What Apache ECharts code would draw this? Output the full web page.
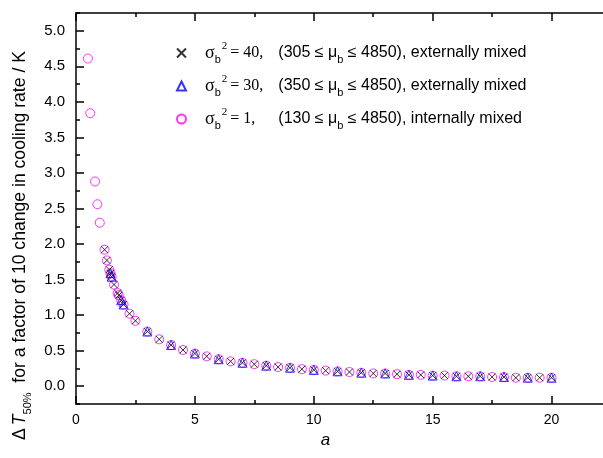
<!DOCTYPE html>
<html><head><meta charset="utf-8">
<script src="https://cdn.jsdelivr.net/npm/echarts@6/dist/echarts.min.js"></script>
<style>html,body{margin:0;padding:0;background:#fff}#c{width:603px;height:458px}</style>
</head><body><div id="c"></div>
<script>
// Data
const aCross = [1.2,1.3,1.4,1.45,1.5,1.6,1.75,1.8,1.9,2.0,2.25,2.5,3,3.5,4,4.5,5,5.5,6,6.5,7,7.5,8,8.5,9,9.5,10,10.5,11,11.5,12,12.5,13,13.5,14,14.5,15,15.5,16,16.5,17,17.5,18,18.5,19,19.5,20];
const yCross = [1.92,1.77,1.64,1.59,1.54,1.43,1.31,1.28,1.21,1.15,1.02,0.92,0.77,0.66,0.58,0.51,0.46,0.42,0.38,0.35,0.33,0.31,0.29,0.27,0.26,0.24,0.23,0.22,0.21,0.20,0.19,0.18,0.18,0.17,0.16,0.16,0.15,0.15,0.14,0.14,0.14,0.13,0.13,0.12,0.12,0.12,0.12];
const aTri = [1.45,1.5,1.9,2.0,3,4,5,6,7,8,9,10,11,12,13,14,15,16,17,18,19,20];
const yTri = [1.59,1.54,1.21,1.15,0.77,0.58,0.46,0.38,0.33,0.29,0.26,0.23,0.21,0.19,0.18,0.16,0.15,0.14,0.14,0.13,0.12,0.12];
const aCirc = [0.5,0.6,0.8,0.9,1.0,1.2,1.3,1.4,1.45,1.5,1.6,1.75,1.8,1.9,2.0,2.25,2.5,3,3.5,4,4.5,5,5.5,6,6.5,7,7.5,8,8.5,9,9.5,10,10.5,11,11.5,12,12.5,13,13.5,14,14.5,15,15.5,16,16.5,17,17.5,18,18.5,19,19.5,20];
const yCirc = [4.61,3.84,2.88,2.56,2.30,1.92,1.77,1.64,1.59,1.54,1.43,1.31,1.28,1.21,1.15,1.02,0.92,0.77,0.66,0.58,0.51,0.46,0.42,0.38,0.35,0.33,0.31,0.29,0.27,0.26,0.24,0.23,0.22,0.21,0.20,0.19,0.18,0.18,0.17,0.16,0.16,0.15,0.15,0.14,0.14,0.14,0.13,0.13,0.12,0.12,0.12,0.12];
const yMajorTicks = [0,0.5,1,1.5,2,2.5,3,3.5,4,4.5,5];
const yMinorTicks = [-0.25,0.25,0.75,1.25,1.75,2.25,2.75,3.25,3.75,4.25,4.75,5.25];
const names = ['s40','s30','s1'];
const legendText = {
  s40: '{sg|σ}{sb|b}{sp|2}{eq|= 40,}{t|(305 ≤ μ}{sb|b}{t| ≤ 4850), externally mixed}',
  s30: '{sg|σ}{sb|b}{sp|2}{eq|= 30,}{t|(350 ≤ μ}{sb|b}{t| ≤ 4850), externally mixed}',
  s1:  '{sg|σ}{sb|b}{sp|2}{eq|= 1,}{t|(130 ≤ μ}{sb|b}{t| ≤ 4850), internally mixed}'
};
const zip = (a,b) => a.map((v,i)=>[v,b[i]]);

const chart = echarts.init(document.getElementById('c'), null, {renderer:'canvas'});
const SANS = 'Liberation Sans, Arial, sans-serif';
const SERIF = 'Liberation Serif, Times New Roman, serif';
const axisLine = {show:true, onZero:false, lineStyle:{color:'#000', width:1.5}};
chart.setOption({
  animation:false,
  grid:{left:76, top:13, width:535, height:391, containLabel:false, outerBoundsMode:'none'},
  legend:{
    data:names, orient:'vertical', left:171, top:36, itemGap:9,
    itemWidth:9, itemHeight:9,
    formatter: n => legendText[n],
    textStyle:{
      rich:{
        sg:{fontFamily:SERIF, fontSize:18, color:'#000', lineHeight:24, padding:[0,0,0,14]},
        sb:{fontFamily:SANS, fontSize:11, color:'#000', lineHeight:24, verticalAlign:'bottom'},
        sp:{fontFamily:SERIF, fontSize:11, color:'#000', lineHeight:24, verticalAlign:'top', padding:[0,0,0,1]},
        eq:{fontFamily:SERIF, fontSize:16, color:'#000', lineHeight:24, width:48, padding:[0,0,0,3]},
        t:{fontFamily:SANS, fontSize:16, color:'#000', lineHeight:24}
      }
    }
  },
  xAxis:[
    {type:'value', min:0, max:22.5, interval:5, position:'bottom',
     axisLine, splitLine:{show:false},
     axisTick:{show:true, inside:true, length:8, lineStyle:{color:'#000', width:1.5}},
     minorTick:{show:true, splitNumber:2, length:4, lineStyle:{color:'#000', width:1.5}},
     axisLabel:{show:true, color:'#000', fontFamily:SANS, fontSize:14, margin:9, showMaxLabel:false},
     name:'a', nameLocation:'middle', nameGap:27,
     nameTextStyle:{fontFamily:SANS, fontSize:17, fontStyle:'italic', color:'#000', padding:[0,36,0,0]}},
    {type:'value', min:0, max:22.5, interval:5, position:'top',
     axisLine, splitLine:{show:false},
     axisTick:{show:true, inside:true, length:8, lineStyle:{color:'#000', width:1.5}},
     minorTick:{show:true, splitNumber:2, length:4, lineStyle:{color:'#000', width:1.5}},
     axisLabel:{show:false}}
  ],
  yAxis:[
    {type:'value', min:-0.25, max:5.25, position:'left',
     axisLine, splitLine:{show:false},
     axisTick:{show:true, inside:true, length:8, customValues:yMajorTicks, lineStyle:{color:'#000', width:1.5}},
     axisLabel:{show:true, customValues:yMajorTicks, formatter:v=>Number(v).toFixed(1), color:'#000', fontFamily:SANS, fontSize:15, margin:11},
     name:'{d|Δ}{T|T}{s|50%}{n|  for a factor of 10 change in cooling rate / K}',
     nameLocation:'middle', nameGap:43, nameRotate:90,
     nameTextStyle:{padding:[0,74,0,0], rich:{
       d:{fontFamily:SANS, fontSize:17.6, color:'#000', lineHeight:26},
       T:{fontFamily:SANS, fontSize:17.6, fontStyle:'italic', color:'#000', lineHeight:26, padding:[0,0,0,3]},
       s:{fontFamily:SANS, fontSize:11, color:'#000', lineHeight:26, verticalAlign:'bottom'},
       n:{fontFamily:SANS, fontSize:17.6, color:'#000', lineHeight:26}
     }}},
    {type:'value', min:-0.25, max:5.25, position:'left',
     axisLine:{show:false, onZero:false}, splitLine:{show:false},
     axisTick:{show:true, inside:true, length:4, customValues:yMinorTicks, lineStyle:{color:'#000', width:1.5}},
     axisLabel:{show:false}}
  ],
  series:[
    {name:'s1', type:'scatter', data:zip(aCirc,yCirc), symbol:'circle', symbolSize:9, z:2,
     itemStyle:{color:'rgba(0,0,0,0)', borderColor:'#ff00ff', borderWidth:1}},
    {name:'s30', type:'scatter', data:zip(aTri,yTri), symbol:'triangle', symbolSize:9, z:3,
     itemStyle:{color:'rgba(0,0,0,0)', borderColor:'#0000ff', borderWidth:1}},
    {name:'s40', type:'scatter', data:zip(aCross,yCross), symbol:'path://M0,0L10,10M10,0L0,10', symbolSize:7, z:4,
     itemStyle:{color:'rgba(0,0,0,0)', borderColor:'#000', borderWidth:1}}
  ]
});
</script></body></html>
